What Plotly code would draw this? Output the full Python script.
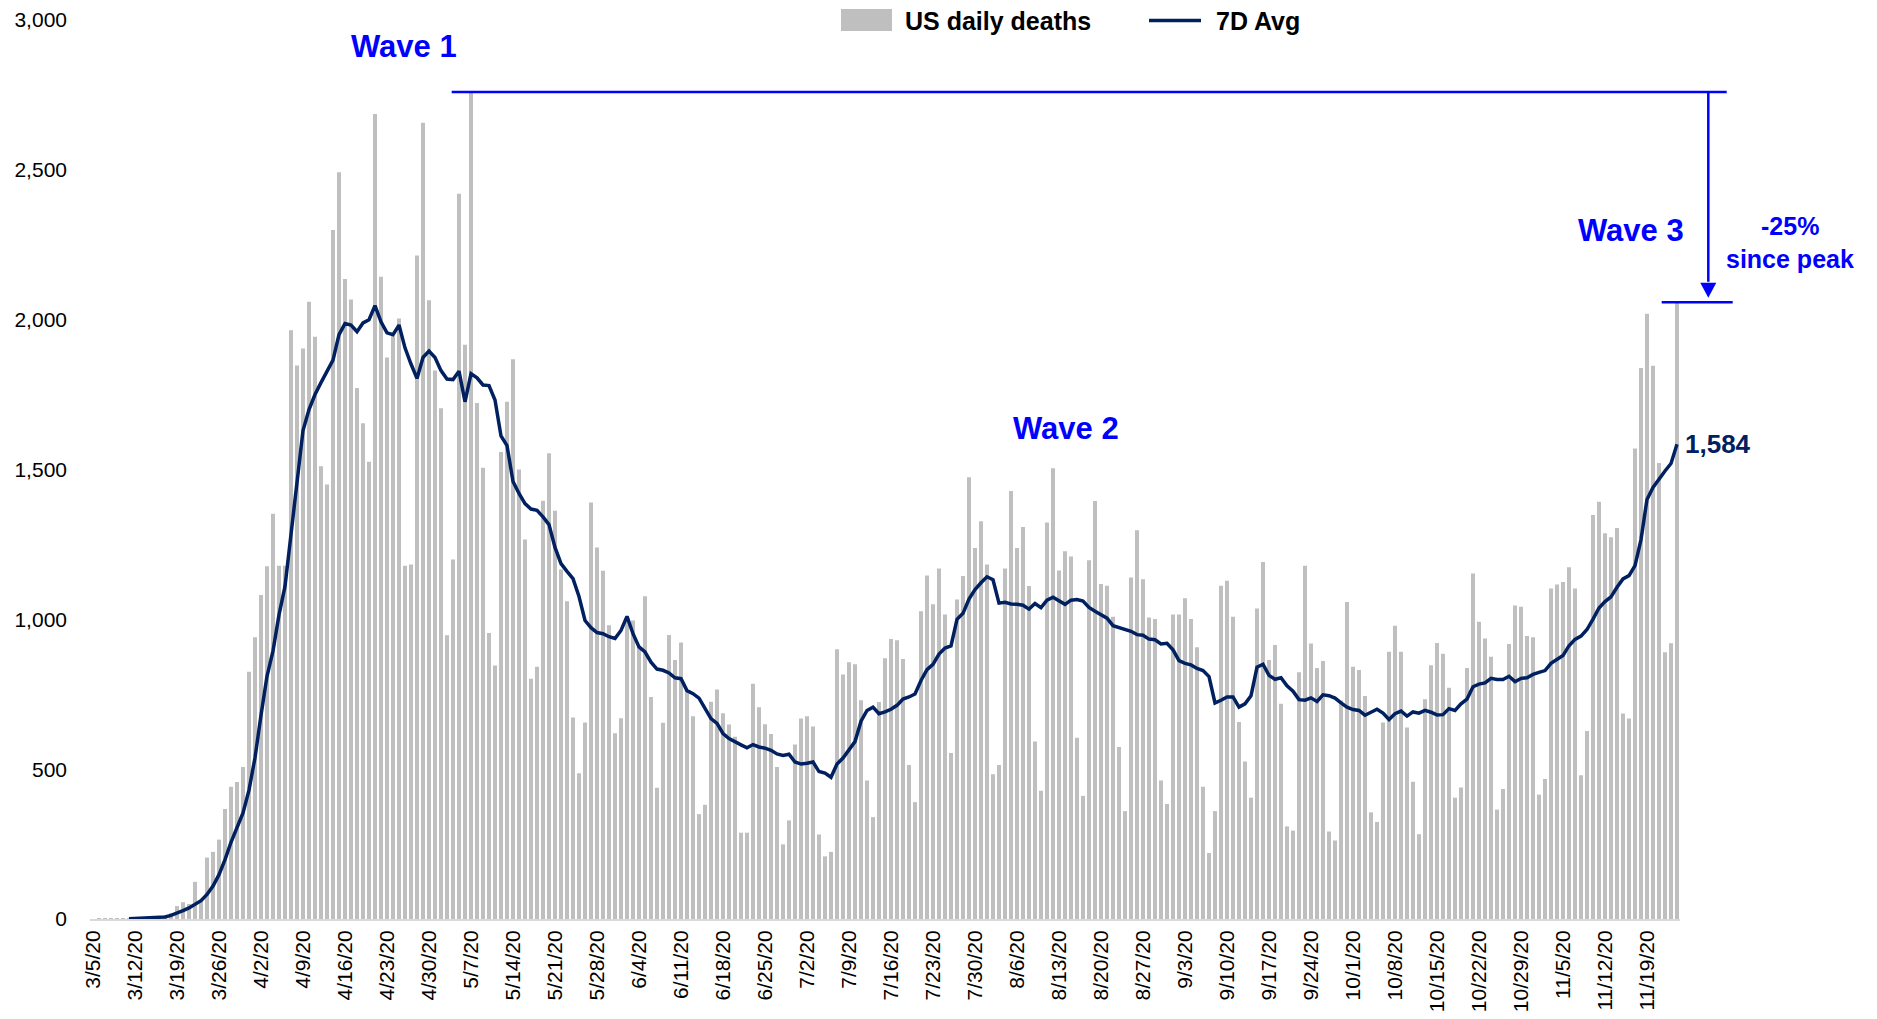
import plotly.graph_objects as go
import pandas as pd

# ---------------- data ----------------
deaths_mar = [0, 1, 1, 1, 2, 2, 3, 4, 4, 5, 6, 8, 12, 20,
              43, 56, 50, 124, 60, 205, 224, 265, 367, 441, 457, 507, 825]
deaths_apr = [940, 1081, 1177, 1352, 1179, 1179, 1965, 1847, 1904, 2060, 1943, 1511, 1450, 2299, 2492,
              2136, 2067, 1772, 1654, 1526, 2686, 2143, 1874, 1945, 2004, 1179, 1183, 2214, 2657, 2065]
deaths_may = [1830, 1704, 947, 1200, 2420, 1916, 2760, 1722, 1506, 954, 846, 1558, 1726, 1868, 1500, 1266,
              802, 842, 1396, 1554, 1362, 1166, 1060, 672, 486, 656, 1390, 1240, 1162, 980, 620]
deaths_jun = [670, 996, 996, 911, 1077, 741, 438, 655, 948, 864, 923, 762, 677, 350, 381,
              725, 766, 687, 649, 608, 288, 288, 785, 707, 650, 617, 507, 249, 329, 582]
deaths_jul = [669, 677, 642, 282, 209, 224, 900, 816, 857, 850, 730, 462, 340, 724, 870, 934,
              930, 868, 514, 390, 1027, 1146, 1050, 1170, 1016, 554, 1066, 1145, 1474, 1238, 1327]
deaths_aug = [1183, 483, 514, 1170, 1428, 1238, 1308, 1111, 592, 428, 1323, 1504, 1163, 1227, 1210, 605,
              411, 1197, 1395, 1118, 1112, 1009, 574, 360, 1140, 1297, 1134, 1006, 1001, 462, 384]
deaths_sep = [1016, 1016, 1070, 1001, 907, 441, 220, 360, 1112, 1129, 1009, 657, 526, 405, 1036,
              1191, 864, 914, 718, 309, 295, 823, 1179, 919, 838, 861, 292, 262, 729, 1058]
deaths_oct = [842, 831, 744, 356, 324, 656, 892, 979, 892, 639, 458, 283, 733, 847, 921, 885,
              772, 405, 439, 838, 1153, 992, 936, 875, 365, 434, 918, 1046, 1042, 944, 940]
deaths_nov = [415, 467, 1103, 1116, 1125, 1174, 1103, 480, 627, 1348, 1392, 1287,
              1274, 1305, 686, 669, 1570, 1839, 2020, 1846, 1522, 890, 920, 2058]

avg_mar = [None, None, None, None, None, None, 1, 2, 2, 3, 4, 5, 7, 12,
           19, 28, 37, 50, 61, 82, 110, 148, 198, 256, 306, 354, 430]
avg_apr = [538, 680, 810, 895, 1015, 1110, 1287, 1461, 1630, 1700, 1750, 1790, 1825, 1865, 1950,
           1987, 1982, 1960, 1989, 2000, 2047, 1993, 1956, 1950, 1982, 1906, 1852, 1804, 1874, 1895]
avg_may = [1874, 1830, 1802, 1800, 1828, 1726, 1820, 1806, 1782, 1780, 1732, 1612, 1580, 1460, 1420, 1386,
           1368, 1364, 1342, 1316, 1240, 1186, 1160, 1136, 1076, 996, 972, 956, 952, 942, 936]
avg_jun = [963, 1010, 952, 908, 891, 857, 834, 830, 821, 805, 802, 762, 752, 737, 700,
           669, 653, 619, 602, 593, 581, 571, 582, 574, 570, 563, 551, 546, 550, 524]
avg_jul = [517, 520, 524, 492, 487, 473, 517, 537, 564, 592, 660, 696, 707, 685, 691, 700,
           713, 734, 741, 751, 796, 832, 850, 884, 904, 911, 1000, 1020, 1068, 1099, 1122]
avg_aug = [1142, 1132, 1054, 1057, 1051, 1050, 1047, 1034, 1053, 1039, 1064, 1074, 1061, 1050, 1064, 1066,
           1061, 1040, 1027, 1017, 1004, 979, 972, 968, 960, 949, 947, 934, 932, 918, 920]
avg_sep = [898, 862, 853, 848, 836, 829, 809, 721, 730, 741, 741, 707, 718, 745, 840,
           850, 813, 800, 805, 778, 760, 732, 730, 738, 726, 748, 745, 737, 721, 707]
avg_oct = [699, 696, 680, 691, 700, 687, 666, 685, 694, 677, 691, 687, 696, 690, 681, 682,
           702, 696, 718, 734, 775, 784, 788, 803, 799, 799, 810, 792, 803, 805, 816]
avg_nov = [823, 829, 853, 866, 879, 912, 933, 944, 966, 1001, 1038, 1059,
           1075, 1107, 1135, 1146, 1179, 1266, 1400, 1440, 1470, 1495, 1520, 1584]

START_DATE = "2020-03-05"
Y_TICKS = [0, 500, 1000, 1500, 2000, 2500, 3000]

deaths = (deaths_mar + deaths_apr + deaths_may + deaths_jun + deaths_jul +
          deaths_aug + deaths_sep + deaths_oct + deaths_nov)
avg7 = avg_mar + avg_apr + avg_may + avg_jun + avg_jul + avg_aug + avg_sep + avg_oct + avg_nov

dates = pd.date_range(START_DATE, periods=len(deaths), freq="D")
labels = [f"{d.month}/{d.day}/{d.year % 100}" for d in dates]
tick_labels = labels[::7]

# ---------------- layout geometry ----------------
W, H = 1877, 1019
ML, MR, MT, MB = 90, 197, 20, 100
PW, PH = W - ML - MR, H - MT - MB
Y_MAX = Y_TICKS[-1]


def px(x):
    return (x - ML) / PW


def py(y):
    return (H - MB - y) / PH


FONT = "Liberation Sans, Arial, sans-serif"
BLUE = "#0000FF"
NAVY = "#002060"
GREY = "#BFBFBF"

fig = go.Figure()
fig.add_trace(go.Bar(x=labels, y=deaths, marker=dict(color=GREY, line=dict(width=0)),
                     name="US daily deaths", showlegend=False, hoverinfo="x+y"))
fig.add_trace(go.Scatter(x=labels, y=avg7, mode="lines", line=dict(color=NAVY, width=3.5),
                         name="7D Avg", showlegend=False, connectgaps=False))

peak = max(deaths)
last = deaths[-1]
y_peak = peak / Y_MAX
y_last = last / Y_MAX
arrow_x = px(1708.3)
tip = y_last + 4.5 / PH
base = tip + 15 / PH
half = 8 / PW

shapes = [
    # peak line
    dict(type="line", xref="paper", yref="paper", x0=px(451.7), x1=px(1726.7), y0=y_peak, y1=y_peak,
         line=dict(color=BLUE, width=2.5)),
    # current line
    dict(type="line", xref="paper", yref="paper", x0=px(1661.7), x1=px(1732.7), y0=y_last, y1=y_last,
         line=dict(color=BLUE, width=2.5)),
    # vertical arrow shaft
    dict(type="line", xref="paper", yref="paper", x0=arrow_x, x1=arrow_x, y0=y_peak, y1=base + 1 / PH,
         line=dict(color=BLUE, width=2.5)),
    # arrow head
    dict(type="path", xref="paper", yref="paper",
         path=f"M {arrow_x - half},{base} L {arrow_x + half},{base} L {arrow_x},{tip} Z",
         fillcolor=BLUE, line=dict(color=BLUE, width=0)),
    # legend: bar swatch
    dict(type="rect", xref="paper", yref="paper", x0=px(841), x1=px(892), y0=py(31), y1=py(9),
         fillcolor=GREY, line=dict(width=0)),
    # legend: line swatch
    dict(type="line", xref="paper", yref="paper", x0=px(1149), x1=px(1201), y0=py(20.5), y1=py(20.5),
         line=dict(color=NAVY, width=3.5)),
]

annotations = [
    dict(text="<b>US daily deaths</b>", xref="paper", yref="paper", x=px(903), y=py(21),
         xanchor="left", yanchor="middle", showarrow=False, font=dict(family=FONT, size=25, color="#000000")),
    dict(text="<b>7D Avg</b>", xref="paper", yref="paper", x=px(1214), y=py(21),
         xanchor="left", yanchor="middle", showarrow=False, font=dict(family=FONT, size=25, color="#000000")),
    dict(text="<b>Wave 1</b>", xref="paper", yref="paper", x=px(403.5), y=py(46),
         xanchor="center", yanchor="middle", showarrow=False, font=dict(family=FONT, size=31, color=BLUE)),
    dict(text="<b>Wave 2</b>", xref="paper", yref="paper", x=px(1066), y=py(428),
         xanchor="center", yanchor="middle", showarrow=False, font=dict(family=FONT, size=31, color=BLUE)),
    dict(text="<b>Wave 3</b>", xref="paper", yref="paper", x=px(1630.5), y=py(230.5),
         xanchor="center", yanchor="middle", showarrow=False, font=dict(family=FONT, size=31, color=BLUE)),
    dict(text=f"<b>{round((last / peak - 1) * 100):d}%</b>", xref="paper", yref="paper", x=px(1789.5), y=py(226),
         xanchor="center", yanchor="middle", showarrow=False, font=dict(family=FONT, size=25, color=BLUE)),
    dict(text="<b>since peak</b>", xref="paper", yref="paper", x=px(1789.5), y=py(259),
         xanchor="center", yanchor="middle", showarrow=False, font=dict(family=FONT, size=25, color=BLUE)),
    dict(text=f"<b>{avg7[-1]:,}</b>", xref="x", yref="y", x=labels[-1], y=avg7[-1],
         xanchor="left", yanchor="middle", xshift=6, showarrow=False,
         font=dict(family=FONT, size=26, color=NAVY)),
]

fig.update_layout(
    width=W, height=H,
    margin=dict(l=ML, r=MR, t=MT, b=MB, pad=0, autoexpand=False),
    paper_bgcolor="white", plot_bgcolor="white",
    bargap=0.33,
    showlegend=False,
    font=dict(family=FONT, size=21, color="#000000"),
    shapes=shapes,
    annotations=annotations,
    xaxis=dict(type="category", range=[-0.5, len(labels) - 0.5], tickmode="array",
               tickvals=tick_labels, ticktext=tick_labels, tickangle=-90,
               tickfont=dict(family=FONT, size=21, color="#000000"),
               showgrid=False, zeroline=False, showline=True, linecolor="#D9D9D9", linewidth=2,
               ticks="", ticklabelstandoff=1, automargin=False, fixedrange=True),
    yaxis=dict(range=[0, Y_MAX], tickmode="array", tickvals=Y_TICKS, tickformat=",",
               tickfont=dict(family=FONT, size=21, color="#000000"),
               showgrid=False, zeroline=False, showline=False, ticks="", ticklabelstandoff=22,
               automargin=False, fixedrange=True),
)

fig.write_html("out.html", config={"displayModeBar": False},
               post_script="document.body.style.margin='0';document.body.style.overflow='hidden';")
